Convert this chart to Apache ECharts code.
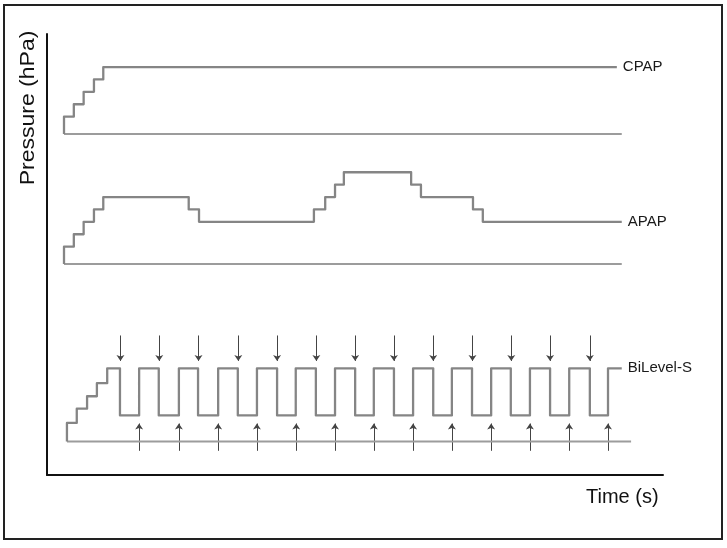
<!DOCTYPE html>
<html>
<head>
<meta charset="utf-8">
<script src="https://cdn.jsdelivr.net/npm/echarts@6/dist/echarts.min.js"></script>
<style>html,body{margin:0;padding:0;background:#fff}#c{width:727px;height:548px}</style>
</head>
<body>
<div id="c"></div>
<script>
// ---- data (time in s, pressure in hPa above each trace's baseline) ----
var seriesNames = ['CPAP', 'APAP', 'BiLevel-S'];

// CPAP: breakpoints and the level held between consecutive breakpoints
var cpapTimes  = [0, 1.0, 2.0, 3.05, 4.0, 56.3];
var cpapLevels = [1.4, 2.4, 3.4, 4.4, 5.4];
var cpapBaseline = [0, 56.8];

// APAP
var apapTimes  = [0, 1.0, 2.0, 3.05, 4.0, 12.7, 13.75, 25.45, 26.6, 27.6, 28.5, 35.35, 36.35, 41.65, 42.65, 56.8];
var apapLevels = [1.4, 2.4, 3.4, 4.4, 5.4, 4.4, 3.4, 4.4, 5.4, 6.4, 7.4, 6.4, 5.4, 4.4, 3.4];
var apapBaseline = [0, 56.8];

// BiLevel-S
var bilevelTimes = [0.3, 1.3, 2.35, 3.35, 4.4,
  5.7, 7.65, 9.65, 11.7, 13.65, 15.7, 17.7, 19.65, 21.7, 23.6, 25.65, 27.6, 29.65,
  31.55, 33.6, 35.55, 37.6, 39.5, 41.55, 43.5, 45.5, 47.45, 49.5, 51.45, 53.55, 55.4,
  56.8];
var bilevelLevels = [1.5, 2.65, 3.65, 4.7, 5.9,
  2.1, 5.9, 2.1, 5.9, 2.1, 5.9, 2.1, 5.9, 2.1, 5.9, 2.1, 5.9, 2.1,
  5.9, 2.1, 5.9, 2.1, 5.9, 2.1, 5.9, 2.1, 5.9, 2.1, 5.9, 2.1, 5.9];
var bilevelBaseline = [0.3, 57.75];

// trigger arrows (expiration: down arrows above, inspiration: up arrows below)
var exhaleArrowTimes = [5.75, 9.7, 13.7, 17.75, 21.7, 25.7, 29.65, 33.6, 37.6, 41.6, 45.55, 49.5, 53.55];
var inhaleArrowTimes = [7.65, 11.7, 15.7, 19.65, 23.65, 27.6, 31.55, 35.55, 39.5, 43.5, 47.45, 51.45, 55.4];
var exhaleArrowRange = [8.55, 6.5];
var inhaleArrowRange = [-0.75, 1.45];

var axisTitles = { x: 'Time (s)', y: 'Pressure (hPa)' };

// ---- build ----
function stepPoints(times, levels) {
  var pts = [[times[0], 0]];
  for (var i = 0; i < levels.length; i++) {
    pts.push([times[i], levels[i]]);
    pts.push([times[i + 1], levels[i]]);
  }
  return pts;
}
function arrows(times, range) {
  return times.map(function (t) { return { coords: [[t, range[0]], [t, range[1]]] }; });
}

var TRACE = '#858585', BASE = '#9c9c9c';
var gridTops = [22.4, 152.4, 329.9];
var grids = gridTops.map(function (t) { return { left: 64, right: 64, top: t, height: 124 }; });
grids.push({ left: 47, right: 64, top: 34, bottom: 73 });

var xAxes = [], yAxes = [];
for (var g = 0; g < 3; g++) {
  xAxes.push({ gridIndex: g, type: 'value', min: 0, max: 61, show: false });
  yAxes.push({ gridIndex: g, type: 'value', min: -1, max: 9, show: false });
}
xAxes.push({ gridIndex: 3, type: 'value', min: 0, max: 1, axisLine: { show: true, onZero: false, lineStyle: { color: '#111', width: 2 } },
  axisTick: { show: false }, axisLabel: { show: false }, splitLine: { show: false } });
yAxes.push({ gridIndex: 3, type: 'value', min: 0, max: 1, axisLine: { show: true, onZero: false, lineStyle: { color: '#111', width: 2 } },
  axisTick: { show: false }, axisLabel: { show: false }, splitLine: { show: false } });

var traces = [[cpapTimes, cpapLevels, cpapBaseline], [apapTimes, apapLevels, apapBaseline], [bilevelTimes, bilevelLevels, bilevelBaseline]];
var series = [];
traces.forEach(function (tr, i) {
  series.push({
    type: 'line', xAxisIndex: i, yAxisIndex: i, data: [[tr[2][0], 0], [tr[2][1], 0]],
    symbol: 'none', lineStyle: { color: BASE, width: 1.8 }, silent: true
  });
  series.push({
    name: seriesNames[i], type: 'line', xAxisIndex: i, yAxisIndex: i, data: stepPoints(tr[0], tr[1]),
    symbol: 'none', lineStyle: { color: TRACE, width: 2.3, join: 'round' }, silent: true,
    endLabel: { show: true, formatter: '{a}', distance: 6, color: '#1a1a1a', fontSize: 15, fontFamily: 'Liberation Sans, Arial, sans-serif' }
  });
});
[[exhaleArrowTimes, exhaleArrowRange], [inhaleArrowTimes, inhaleArrowRange]].forEach(function (a) {
  series.push({
    type: 'lines', coordinateSystem: 'cartesian2d', xAxisIndex: 2, yAxisIndex: 2,
    data: arrows(a[0], a[1]), symbol: ['none', 'arrow'], symbolSize: [0, 6],
    lineStyle: { color: '#444', width: 1, opacity: 1 }, silent: true
  });
});

var chart = echarts.init(document.getElementById('c'), null, { renderer: 'canvas' });
chart.setOption({
  animation: false,
  backgroundColor: '#fff',
  grid: grids,
  xAxis: xAxes,
  yAxis: yAxes,
  series: series,
  graphic: [
    { type: 'rect', shape: { x: 4, y: 5, width: 718, height: 534 }, style: { fill: 'none', stroke: '#222', lineWidth: 2 }, silent: true },
    { type: 'text', x: 586, y: 497, style: { text: axisTitles.x, font: '20px "Liberation Sans", Arial, sans-serif', fill: '#111', textVerticalAlign: 'middle', textAlign: 'left' } },
    { type: 'text', x: 28, y: 108, rotation: Math.PI / 2, scaleX: 1.15, style: { text: axisTitles.y, font: '20px "Liberation Sans", Arial, sans-serif', fill: '#111', textVerticalAlign: 'middle', textAlign: 'center' } }
  ]
});
</script>
</body>
</html>
